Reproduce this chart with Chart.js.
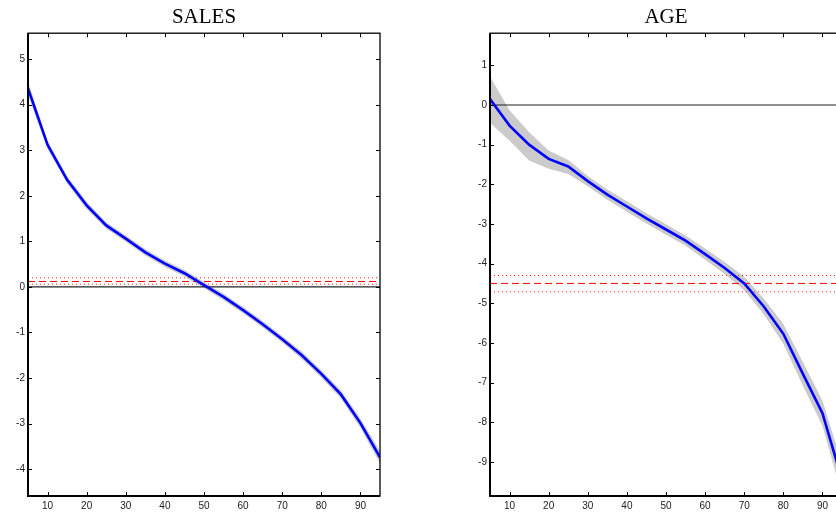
<!DOCTYPE html>
<html lang="en">
<head>
<meta charset="UTF-8">
<title>SALES / AGE</title>
<script src="https://cdn.jsdelivr.net/npm/chart.js"></script>
<style>
  html, body { margin: 0; padding: 0; background: #fff; overflow: hidden; }
  body { width: 836px; height: 516px; position: relative; }
  canvas { position: absolute; top: 0; }
</style>
</head>
<body>
<canvas id="salesChart" width="400" height="516" style="left:0"></canvas>
<canvas id="ageChart" width="400" height="516" style="left:462px"></canvas>
<script>
// quantile grid
const xs = [5, 10, 15, 20, 25, 30, 35, 40, 45, 50, 55, 60, 65, 70, 75, 80, 85, 90, 95];
const xTicks = [10, 20, 30, 40, 50, 60, 70, 80, 90];

// SALES
const salesMean = [4.36, 3.12, 2.35, 1.79, 1.35, 1.06, 0.76, 0.51, 0.30, 0.04, -0.22, -0.51, -0.82, -1.15, -1.50, -1.91, -2.36, -2.99, -3.74];
const salesHi   = [4.51, 3.21, 2.43, 1.87, 1.42, 1.13, 0.83, 0.58, 0.37, 0.11, -0.15, -0.44, -0.75, -1.08, -1.42, -1.83, -2.27, -2.89, -3.60];
const salesLo   = [4.21, 3.03, 2.27, 1.71, 1.28, 0.99, 0.69, 0.44, 0.23, -0.03, -0.29, -0.58, -0.89, -1.22, -1.58, -1.99, -2.45, -3.09, -3.88];
const salesOls = [0.12, 0.06, 0.20];   // estimate, lower, upper
const salesYTicks = [-4, -3, -2, -1, 0, 1, 2, 3, 4, 5];

// AGE
const ageMean = [0.15, -0.52, -1.00, -1.36, -1.55, -1.92, -2.26, -2.56, -2.86, -3.14, -3.42, -3.76, -4.11, -4.50, -5.08, -5.77, -6.78, -7.77, -9.45];
const ageHi   = [0.72, -0.13, -0.69, -1.15, -1.39, -1.79, -2.13, -2.43, -2.73, -3.01, -3.29, -3.62, -3.96, -4.33, -4.88, -5.52, -6.48, -7.45, -9.05];
const ageLo   = [-0.45, -0.90, -1.40, -1.61, -1.74, -2.05, -2.39, -2.69, -2.99, -3.27, -3.55, -3.90, -4.26, -4.67, -5.28, -6.02, -7.08, -8.09, -9.85];
const ageOls = [-4.50, -4.71, -4.30];
const ageYTicks = [-9, -8, -7, -6, -5, -4, -3, -2, -1, 0, 1];

const zeroLine = 0;

const pts = arr => xs.map((x, i) => ({ x: x, y: arr[i] }));
const flat = v => [{ x: xs[0], y: v }, { x: xs[xs.length - 1], y: v }];

// box frame with inward ticks on all four sides
const frame = {
    id: 'frame',
    afterDatasetsDraw(chart) {
        const ctx = chart.ctx, a = chart.chartArea;
        const x = chart.scales.x, y = chart.scales.y;
        ctx.save();
        ctx.strokeStyle = '#000';
        ctx.lineWidth = 1;
        ctx.beginPath();
        x.ticks.forEach(t => {
            const px = Math.round(x.getPixelForValue(t.value)) + 0.5;
            ctx.moveTo(px, a.bottom); ctx.lineTo(px, a.bottom - 4);
            ctx.moveTo(px, a.top); ctx.lineTo(px, a.top + 4);
        });
        y.ticks.forEach(t => {
            const py = Math.round(y.getPixelForValue(t.value)) + 0.5;
            ctx.moveTo(a.left, py); ctx.lineTo(a.left + 4, py);
            ctx.moveTo(a.right, py); ctx.lineTo(a.right - 4, py);
        });
        ctx.stroke();
        ctx.lineWidth = 1.3;
        ctx.strokeRect(a.left, a.top, a.right - a.left, a.bottom - a.top);
        ctx.lineWidth = 2;
        ctx.beginPath();
        ctx.moveTo(a.left, a.top); ctx.lineTo(a.left, a.bottom); ctx.lineTo(a.right, a.bottom);
        ctx.stroke();
        ctx.restore();
    }
};

function makeChart(id, title, mean, hi, lo, ols, yMin, yMax, yTicks) {
    const ctx = document.getElementById(id).getContext('2d');
    return new Chart(ctx, {
        type: 'line',
        data: {
            datasets: [
                { data: pts(mean), borderColor: '#0000ff', borderWidth: 2.6, pointRadius: 0, tension: 0, fill: false },
                { data: flat(ols[0]), borderColor: '#ff0000', borderWidth: 1, borderDash: [7, 4], pointRadius: 0, fill: false },
                { data: flat(ols[1]), borderColor: 'rgba(255,0,0,0.85)', borderWidth: 1, borderDash: [1, 3], pointRadius: 0, fill: false },
                { data: flat(ols[2]), borderColor: 'rgba(255,0,0,0.85)', borderWidth: 1, borderDash: [1, 3], pointRadius: 0, fill: false },
                { data: flat(zeroLine), borderColor: '#222', borderWidth: 1.2, pointRadius: 0, fill: false },
                { data: pts(hi), borderWidth: 0, borderColor: 'rgba(0,0,0,0)', backgroundColor: 'rgba(200,200,200,0.95)', pointRadius: 0, tension: 0, fill: '+1' },
                { data: pts(lo), borderWidth: 0, borderColor: 'rgba(0,0,0,0)', pointRadius: 0, tension: 0, fill: false }
            ]
        },
        options: {
            responsive: false,
            animation: false,
            events: [],
            layout: { padding: { left: 0, right: 20, top: 0, bottom: 0 } },
            plugins: {
                legend: { display: false },
                tooltip: { enabled: false },
                title: {
                    display: true,
                    text: title,
                    fullSize: false,
                    color: '#000',
                    font: { family: 'Liberation Serif', size: 21, weight: 'normal' },
                    padding: { top: 5, bottom: 3 }
                }
            },
            scales: {
                x: {
                    type: 'linear',
                    min: 5,
                    max: 95,
                    afterBuildTicks: s => { s.ticks = xTicks.map(v => ({ value: v })); },
                    afterFit: s => { s.height = 20; },
                    grid: { display: false, drawTicks: false },
                    border: { display: false },
                    ticks: { color: '#222', font: { family: 'Liberation Sans', size: 10 }, padding: 4, maxRotation: 0, autoSkip: false }
                },
                y: {
                    type: 'linear',
                    min: yMin,
                    max: yMax,
                    afterBuildTicks: s => { s.ticks = yTicks.map(v => ({ value: v })); },
                    afterFit: s => { s.width = 28; },
                    grid: { display: false, drawTicks: false },
                    border: { display: false },
                    ticks: { color: '#222', font: { family: 'Liberation Sans', size: 10 }, padding: 3, autoSkip: false }
                }
            }
        },
        plugins: [frame]
    });
}

makeChart('salesChart', 'SALES', salesMean, salesHi, salesLo, salesOls, -4.59, 5.57, salesYTicks);
makeChart('ageChart', 'AGE', ageMean, ageHi, ageLo, ageOls, -9.86, 1.81, ageYTicks);
</script>
</body>
</html>
